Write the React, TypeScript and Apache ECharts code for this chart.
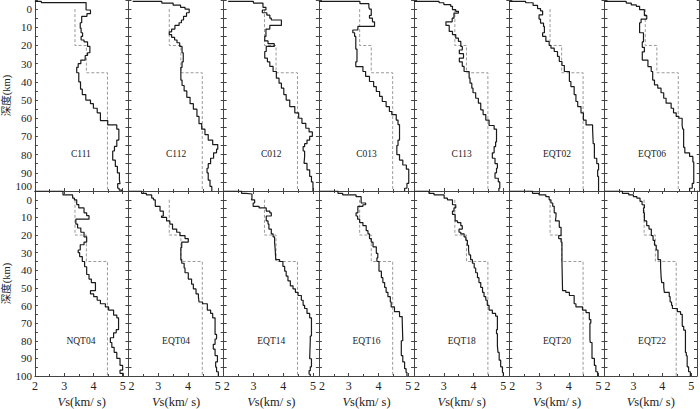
import React, { useEffect, useRef } from "react";
import * as echarts from "echarts";

// Station names (top row then bottom row)
const STATIONS = ["C111", "C112", "C012", "C013", "C113", "EQT02", "EQT06",
  "NQT04", "EQT04", "EQT14", "EQT16", "EQT18", "EQT20", "EQT22"];

// Reference (dashed) model: layer top depth (km) and Vs (km/s)
const REF_TOP = [0, 20, 35];
const REF_VS = [3.37, 3.76, 4.48];
const MAX_DEPTH = 100;

// Inverted profiles: [layer top depth (km), Vs (km/s)]
const C111 = [[-4.2, 2.0], [-4.2, 2.22], [-3.6, 3.75], [0.5, 3.9], [2.5, 3.78], [4, 3.6], [7.5, 3.55], [10.5, 3.58], [13, 3.63], [15, 3.58], [17, 3.68], [18, 3.8], [20.5, 3.88], [24, 3.8], [25.5, 3.72], [28, 3.57], [30, 3.48], [32, 3.43], [35, 3.5], [40, 3.56], [44, 3.62], [47, 3.74], [50, 3.9], [52, 4.0], [54.5, 4.13], [57, 4.24], [61.3, 4.49], [63.7, 4.8], [66, 4.87], [72, 4.8], [75.5, 4.72], [78, 4.66], [83, 4.75], [86.5, 4.82], [90, 4.89], [94, 4.91], [96, 4.83], [98.5, 4.88], [99.5, 4.98]];
const C112 = [[-4.2, 2.14], [-4.2, 3.12], [-3.3, 3.5], [-2.2, 3.75], [-1, 3.9], [0, 4.04], [2, 3.95], [4, 3.85], [6, 3.78], [7.5, 3.7], [9, 3.56], [11, 3.45], [12.5, 3.37], [14, 3.45], [15.5, 3.55], [17, 3.63], [18.5, 3.72], [20.5, 3.8], [24, 3.84], [29, 3.8], [32, 3.76], [39, 3.8], [42, 3.87], [45, 3.96], [48.5, 4.07], [52, 4.18], [55, 4.3], [59, 4.37], [63, 4.46], [66, 4.57], [69, 4.68], [72, 4.83], [74.5, 5.0], [77, 4.96], [79, 4.86], [82, 4.76], [85, 4.68], [87.5, 4.64], [90, 4.68], [94, 4.74], [97.5, 4.8]];
const C012 = [[-4.2, 2.15], [-4.2, 3.0], [-3.3, 3.32], [-1, 3.42], [0.5, 3.3], [2, 3.45], [3.3, 3.55], [5, 3.6], [6, 3.94], [9, 3.55], [11, 3.42], [15, 3.38], [17.5, 3.49], [19, 3.7], [20.5, 3.43], [23.3, 3.38], [27, 3.47], [29, 3.55], [31.5, 3.66], [34.3, 3.77], [38, 3.86], [40.7, 3.94], [43.5, 4.02], [47, 4.1], [50, 4.22], [53.6, 4.39], [57, 4.52], [60, 4.63], [62.8, 4.76], [65.5, 4.87], [67.5, 4.98], [70, 4.89], [72, 4.8], [74, 4.72], [75.6, 4.67], [78, 4.72], [81, 4.7], [84.8, 4.8], [88.4, 4.89], [92, 4.95], [95, 5.0]];
const C013 = [[-4.2, 2.0], [-4.2, 3.38], [-3.0, 3.68], [-1, 3.7], [0, 3.76], [3.5, 3.7], [5, 3.8], [7, 3.87], [9.5, 3.31], [11.5, 3.14], [13, 3.2], [15, 3.24], [22, 3.28], [29, 3.24], [31.6, 3.48], [34.3, 3.57], [37, 3.7], [39.8, 3.84], [42.6, 3.93], [45.3, 4.04], [48, 4.13], [50.8, 4.26], [53.6, 4.37], [56.3, 4.45], [58, 4.6], [61, 4.66], [63.5, 4.71], [72, 4.66], [75, 4.62], [80, 4.71], [83, 4.82], [85.7, 4.94], [88, 5.02], [95.8, 4.96], [98.5, 4.88]];
const C113 = [[-4.2, 2.0], [-4.2, 2.84], [-3.5, 3.0], [-2.5, 3.23], [-1.5, 3.29], [0.3, 3.4], [1.2, 3.49], [2.2, 3.34], [5, 3.28], [7, 3.07], [9, 3.18], [12.3, 3.29], [14, 3.4], [16, 3.49], [17.8, 3.57], [20.5, 3.62], [22.5, 3.52], [24.5, 3.66], [27, 3.52], [29, 3.62], [31.5, 3.68], [34.3, 3.85], [38, 3.88], [40.7, 3.94], [43.5, 3.98], [46, 4.07], [49, 4.16], [51.7, 4.24], [55.4, 4.32], [58, 4.41], [61, 4.52], [64, 4.69], [66, 4.77], [73, 4.74], [75.6, 4.69], [79, 4.63], [82, 4.72], [85, 4.8], [87.5, 4.77], [90, 4.72], [93, 4.83], [95, 4.88], [98.5, 4.85]];
const EQT02 = [[-4.2, 2.0], [-4.2, 2.55], [-3.5, 2.8], [-2, 2.95], [-0.3, 3.05], [1, 3.12], [3.2, 3.0], [5.5, 3.05], [7.7, 3.15], [9.5, 3.18], [13, 3.12], [15, 3.23], [17.8, 3.34], [20, 3.4], [21.5, 3.51], [23.3, 3.62], [26, 3.68], [28.8, 3.77], [31, 3.85], [34.3, 4.02], [39.8, 4.07], [42.6, 4.18], [47, 4.24], [50.8, 4.3], [53.6, 4.41], [57, 4.49], [61, 4.58], [63.7, 4.8], [66, 4.82], [74, 4.86], [82, 4.94], [85, 5.0], [88.4, 4.97], [92, 5.0]];
const EQT06 = [[-4.2, 2.0], [-4.2, 2.73], [-3.3, 2.9], [-2.3, 3.07], [-1.5, 3.18], [0.3, 3.34], [3.5, 3.42], [5.5, 3.23], [7.5, 3.18], [13, 3.31], [18, 3.27], [21, 3.34], [23.5, 3.27], [28, 3.46], [31.6, 3.57], [34.3, 3.62], [39, 3.68], [41.7, 3.79], [43.5, 3.9], [46, 3.99], [49, 4.07], [51.7, 4.24], [54.5, 4.32], [57, 4.41], [59, 4.5], [60, 4.61], [64, 4.63], [66, 4.66], [76, 4.7], [79, 4.86], [81, 4.97], [84, 5.0], [95.8, 4.95], [98.5, 4.86]];
const NQT04 = [[-5, 2.0], [-5, 2.96], [-2.8, 3.29], [-1, 3.35], [0, 3.43], [2.7, 3.5], [4.6, 3.68], [7.4, 3.77], [9, 3.85], [11, 3.4], [13.8, 3.46], [16, 3.57], [18.4, 3.68], [21, 3.77], [24, 3.68], [25.5, 3.55], [28.5, 3.48], [30, 3.53], [32.2, 3.62], [35, 3.7], [38, 3.77], [42.4, 3.85], [45, 3.93], [47, 4.07], [51.6, 3.9], [53.4, 4.01], [55, 4.13], [57, 4.24], [59, 4.41], [60.8, 4.52], [62.6, 4.69], [65.4, 4.8], [67, 4.86], [73.7, 4.78], [75.5, 4.69], [78.3, 4.58], [81, 4.63], [83.8, 4.71], [86.6, 4.8], [90, 4.91], [94, 5.0], [96.7, 4.91], [98.5, 5.02]];
const EQT04 = [[-5, 2.0], [-5, 2.44], [-3.7, 2.6], [-2.8, 2.78], [-1, 2.84], [0, 2.9], [3.7, 3.06], [6.4, 3.17], [9.2, 3.11], [10, 3.28], [12, 3.39], [13.8, 3.48], [16.6, 3.62], [18.4, 3.73], [20.3, 3.9], [22, 4.01], [24, 3.79], [27, 3.76], [34, 3.79], [36, 3.87], [38.7, 3.9], [41.4, 4.01], [45, 4.12], [47.9, 4.18], [50.6, 4.27], [53.4, 4.35], [55, 4.37], [58, 4.49], [59, 4.65], [62.6, 4.76], [64.5, 4.83], [67, 4.91], [76.4, 4.96], [79, 4.91], [82, 4.85], [84.7, 4.91], [88.4, 4.99], [92, 4.93], [95, 4.96], [97.6, 5.02]];
const EQT14 = [[-5, 2.0], [-5, 2.6], [-3.7, 2.75], [-3.3, 2.95], [-0.9, 2.93], [0, 3.04], [1.8, 2.99], [3.7, 3.19], [4.6, 3.43], [6.4, 3.55], [7.4, 3.6], [9.2, 3.43], [12, 3.49], [13.8, 3.52], [16.6, 3.6], [19.3, 3.66], [21, 3.71], [24, 3.73], [28, 3.75], [34, 3.88], [35, 3.99], [37.8, 4.05], [40.5, 4.1], [43.3, 4.16], [46, 4.24], [48.8, 4.33], [50.6, 4.41], [52.5, 4.5], [54.3, 4.61], [57, 4.67], [59.9, 4.72], [61.7, 4.8], [64.5, 4.89], [67, 4.95], [77.3, 4.91], [80, 4.89], [90.2, 4.95], [94.8, 4.91], [97, 4.87], [99, 4.91]];
const EQT16 = [[-5, 2.0], [-5, 2.64], [-3.7, 2.8], [-2.8, 3.25], [-1.8, 3.42], [1.8, 3.57], [2.8, 3.48], [3.7, 3.31], [7.4, 3.25], [9.2, 3.3], [11, 3.37], [12.9, 3.48], [14.7, 3.59], [17.5, 3.65], [19.3, 3.7], [22, 3.76], [24, 3.82], [26.7, 3.93], [30.4, 3.98], [33, 3.95], [35, 4.02], [40.5, 4.1], [44.2, 4.15], [47, 4.21], [49.7, 4.26], [52.5, 4.32], [55, 4.4], [58, 4.43], [60.8, 4.54], [63.5, 4.71], [66.3, 4.8], [68, 4.82], [80, 4.77], [88.4, 4.82], [92, 4.88], [95.8, 4.93], [98, 4.96]];
const EQT18 = [[-5, 2.0], [-5, 2.5], [-3.7, 2.67], [-2.8, 3.01], [-0.9, 3.12], [0, 3.29], [2.8, 3.4], [4.6, 3.34], [6.4, 3.29], [8.3, 3.38], [12, 3.46], [12.9, 3.57], [14.7, 3.62], [16.6, 3.51], [18.4, 3.57], [19.3, 3.68], [21, 3.74], [23, 3.79], [25.8, 3.83], [28.5, 3.85], [31.3, 3.9], [34, 3.96], [36, 4.02], [38.7, 4.07], [41.4, 4.13], [44.2, 4.18], [47, 4.24], [49.7, 4.3], [52.5, 4.35], [55, 4.41], [57, 4.46], [59.9, 4.52], [62.6, 4.63], [64.5, 4.74], [66, 4.8], [73.7, 4.77], [76, 4.8], [82.9, 4.82], [86.6, 4.86], [91, 4.91], [94.8, 4.97], [98, 5.0]];
const EQT20 = [[-5, 2.0], [-5, 2.78], [-3.7, 3.0], [-2.8, 3.23], [-1.8, 3.34], [0, 3.4], [1.8, 3.46], [3.7, 3.51], [7.4, 3.57], [9.2, 3.55], [12, 3.68], [15.6, 3.74], [20.3, 3.66], [22, 3.74], [24, 3.77], [35, 3.79], [51.6, 3.9], [52.5, 4.02], [54.3, 4.18], [59, 4.24], [60.8, 4.46], [62.6, 4.58], [64, 4.69], [68, 4.74], [70, 4.71], [79, 4.72], [81, 4.78], [90, 4.86], [94, 4.91], [97.6, 4.97]];
const EQT22 = [[-5, 2.0], [-5, 2.62], [-3.7, 2.84], [-2.8, 3.0], [-1.8, 3.12], [-0.9, 3.23], [0.9, 3.3], [2.8, 3.38], [4.6, 3.35], [7.4, 3.38], [12, 3.46], [14.7, 3.54], [16.6, 3.62], [20.3, 3.68], [23, 3.73], [25.8, 3.79], [28.5, 3.85], [34, 3.94], [38, 3.96], [44.2, 3.98], [47, 4.05], [49.7, 4.07], [52.5, 4.24], [55, 4.27], [58, 4.32], [59.9, 4.35], [61.7, 4.52], [63.5, 4.63], [65, 4.69], [71.8, 4.74], [74, 4.8], [86.6, 4.83], [88.5, 4.86], [94.8, 4.91], [97.6, 4.97]];

const PROFILES = [C111, C112, C012, C013, C113, EQT02, EQT06,
  NQT04, EQT04, EQT14, EQT16, EQT18, EQT20, EQT22];

const X_MIN = 2, X_MAX = 5.2, Y_MIN = -5;

const FONT = "Liberation Serif";
const CJK_FONT = "Liberation Serif, Noto Sans CJK SC";
const INK = "#222";
const AXIS = "#444";

function layersToPath(tops: number[], vs: number[], bottom: number): number[][] {
  const pts: number[][] = [];
  for (let i = 0; i < tops.length; i++) {
    const next = i + 1 < tops.length ? tops[i + 1] : bottom;
    pts.push([vs[i], tops[i]]);
    pts.push([vs[i], next]);
  }
  return pts;
}

export default function App() {
  const ref = useRef<HTMLDivElement>(null);
  useEffect(() => {
    if (!ref.current) return;
    const chart = echarts.init(ref.current, undefined, { renderer: "svg" });
    const PANEL_LEFT = 33.3, PANEL_W = 95.2;
    const ROWS = [{ top: 0, height: 191 }, { top: 191, height: 190 }];
    const LABEL_Y = [154, 341];
    const grids: any[] = [], xAxes: any[] = [], yAxes: any[] = [], series: any[] = [], graphics: any[] = [];
    const refPath = layersToPath(REF_TOP, REF_VS, MAX_DEPTH);
    const line = { show: true, onZero: false, lineStyle: { color: AXIS, width: 1 } };
    const tick = { show: true, inside: true, length: 3, lineStyle: { color: AXIS } };
    STATIONS.forEach((name, k) => {
      const row = k < 7 ? 0 : 1;
      const col = k % 7;
      const left = PANEL_LEFT + col * PANEL_W;
      grids.push({ left, top: ROWS[row].top, width: PANEL_W, height: ROWS[row].height, containLabel: false });
      // bottom x axis (with labels in bottom row)
      xAxes.push({
        gridIndex: k, type: "value", min: X_MIN, max: X_MAX, interval: 1, position: "bottom",
        axisLine: line, axisTick: tick,
        minorTick: { show: true, splitNumber: 2, length: 2, lineStyle: { color: AXIS } },
        splitLine: { show: false },
        axisLabel: {
          show: row === 1, margin: 4, fontFamily: FONT, fontSize: 12, color: INK,
          alignMinLabel: col === 0 ? "center" : "left",
          formatter: (v: number) => (Number.isInteger(v) ? String(v) : ""),
        },
        name: row === 1 ? "{i|V}s(km/ s)" : "",
        nameLocation: "middle", nameGap: 19,
        nameTextStyle: {
          fontFamily: FONT, fontSize: 12.5, color: INK,
          rich: { i: { fontStyle: "italic", fontFamily: FONT, fontSize: 12.5, color: INK } },
        },
      });
      // top x axis (frame with inward ticks) - only the lower row shows it
      xAxes.push({
        gridIndex: k, type: "value", min: X_MIN, max: X_MAX, interval: 1, position: "top",
        show: row === 1,
        axisLine: line, axisTick: tick,
        minorTick: { show: true, splitNumber: 2, length: 2, lineStyle: { color: AXIS } },
        splitLine: { show: false }, axisLabel: { show: false },
      });
      // left y axis
      yAxes.push({
        gridIndex: k, type: "value", inverse: true, min: Y_MIN, max: MAX_DEPTH, interval: 5, position: "left",
        axisLine: line, axisTick: tick, splitLine: { show: false },
        axisLabel: {
          show: col === 0, margin: 3, fontFamily: FONT, fontSize: 11, color: INK,
          verticalAlignMaxLabel: row === 0 ? "bottom" : "middle",
          formatter: (v: number) => (v >= 0 && v % 10 === 0 ? String(v) : ""),
        },
        name: col === 0 ? "深度(km)" : "",
        nameLocation: "middle", nameGap: 23, nameRotate: 90,
        nameTextStyle: { fontFamily: CJK_FONT, fontSize: 10.5, color: INK },
      });
      // right y axis (frame with inward ticks)
      yAxes.push({
        gridIndex: k, type: "value", inverse: true, min: Y_MIN, max: MAX_DEPTH, interval: 5, position: "right",
        axisLine: line, axisTick: tick, splitLine: { show: false }, axisLabel: { show: false },
      });
      const prof = PROFILES[k];
      const path = layersToPath(prof.map((p) => p[0]), prof.map((p) => p[1]), MAX_DEPTH);
      series.push({
        type: "line", xAxisIndex: 2 * k, yAxisIndex: 2 * k, data: refPath, showSymbol: false, silent: true,
        lineStyle: { color: "#9a9a9a", width: 1, type: [3, 2] },
      });
      series.push({
        type: "line", xAxisIndex: 2 * k, yAxisIndex: 2 * k, data: path, showSymbol: false, silent: true,
        lineStyle: { color: "#1a1a1a", width: 1.2 },
      });
      graphics.push({
        type: "text", x: left + PANEL_W / 2, y: LABEL_Y[row],
        style: { text: name, fontFamily: FONT, fontSize: 9.5, fill: INK, align: "center", verticalAlign: "middle" },
      });
    });
    chart.setOption({
      animation: false,
      backgroundColor: "#fff",
      grid: grids, xAxis: xAxes, yAxis: yAxes, series, graphic: graphics,
    });
    return () => chart.dispose();
  }, []);
  return <div ref={ref} style={{ position: "fixed", left: 0, top: 0, width: 700, height: 409 }} />;
}
